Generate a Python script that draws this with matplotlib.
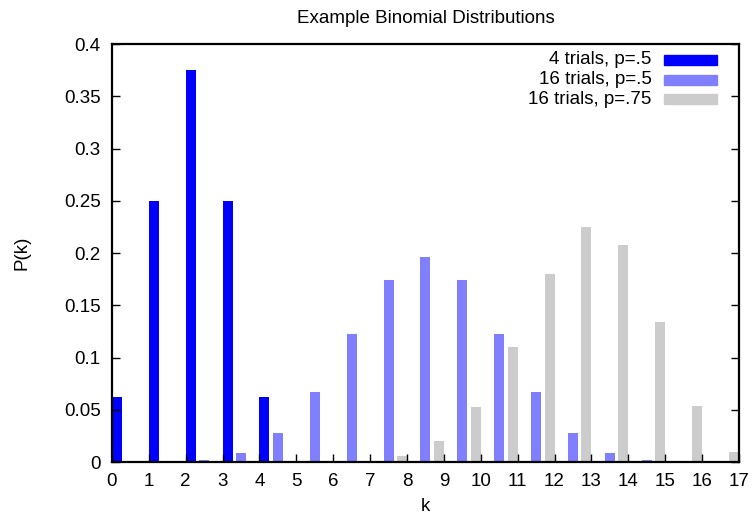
import numpy as np
import matplotlib
matplotlib.use("Agg")
import matplotlib.pyplot as plt
from matplotlib.patches import Rectangle

plt.rcParams['font.family'] = ['Liberation Sans', 'DejaVu Sans']

# data: binomial probabilities P(k)
k_4 = [0, 1, 2, 3, 4]
p_4 = [0.0625, 0.25, 0.375, 0.25, 0.0625]

k_16 = list(range(17))
p_16_half = [0.0000153, 0.000244, 0.00183, 0.00854, 0.0278, 0.0667, 0.1222, 0.1746,
             0.1964, 0.1746, 0.1222, 0.0667, 0.0278, 0.00854, 0.00183, 0.000244, 0.0000153]
p_16_75 = [0.0000000002, 0.000000011, 0.00000024, 0.0000032, 0.0000338, 0.000247, 0.00136,
           0.00584, 0.0197, 0.0524, 0.1101, 0.1802, 0.2252, 0.2079, 0.1336, 0.0535, 0.0100]

labels = ['4 trials, p=.5', '16 trials, p=.5', '16 trials, p=.75']
colors = ['#0000ff', '#8080ff', '#cccccc']
xticks = list(range(18))
yticks = [0, 0.05, 0.1, 0.15, 0.2, 0.25, 0.3, 0.35, 0.4]
ytick_labels = ['0', '0.05', '0.1', '0.15', '0.2', '0.25', '0.3', '0.35', '0.4']

# %%
fig = plt.figure(figsize=(7.54, 5.24), dpi=100)
ax = fig.add_axes([0.1485, 0.1183, 0.8315, 0.7977])

w = 0.27
ax.bar(np.array(k_4) + 0.0, p_4, width=w, align='edge', color=colors[0], zorder=1)
ax.bar(np.array(k_16) + 0.365, p_16_half, width=w, align='edge', color=colors[1], zorder=1)
ax.bar(np.array(k_16) + 0.73, p_16_75, width=w, align='edge', color=colors[2], zorder=1)

ax.set_xlim(0, 17)
ax.set_ylim(0, 0.4)
ax.set_xticks(xticks)
ax.set_yticks(yticks)
ax.set_yticklabels(ytick_labels)

for s in ax.spines.values():
    s.set_linewidth(1.6)
    s.set_zorder(3)
ax.tick_params(axis='both', direction='in', length=6, width=1.0, labelsize=13.5, zorder=3)
ax.tick_params(axis='x', pad=8, top=False)
ax.tick_params(axis='y', pad=8, right=True)

ax.set_title('Example Binomial Distributions', fontsize=13.5, pad=15)
ax.set_xlabel('k', fontsize=13.5, labelpad=6)
ax.set_ylabel('P(k)', fontsize=13.5, labelpad=24)

# gnuplot-style key: right-justified labels with swatch on the right
for i, (lab, c) in enumerate(zip(labels, colors)):
    y = 0.962 - i * 0.047
    ax.text(0.861, y, lab, ha='right', va='center', fontsize=13.5, transform=ax.transAxes)
    ax.add_patch(Rectangle((0.880, y - 0.012), 0.085, 0.024, color=c,
                           transform=ax.transAxes, clip_on=False))

fig.savefig('out.png', dpi=100)
